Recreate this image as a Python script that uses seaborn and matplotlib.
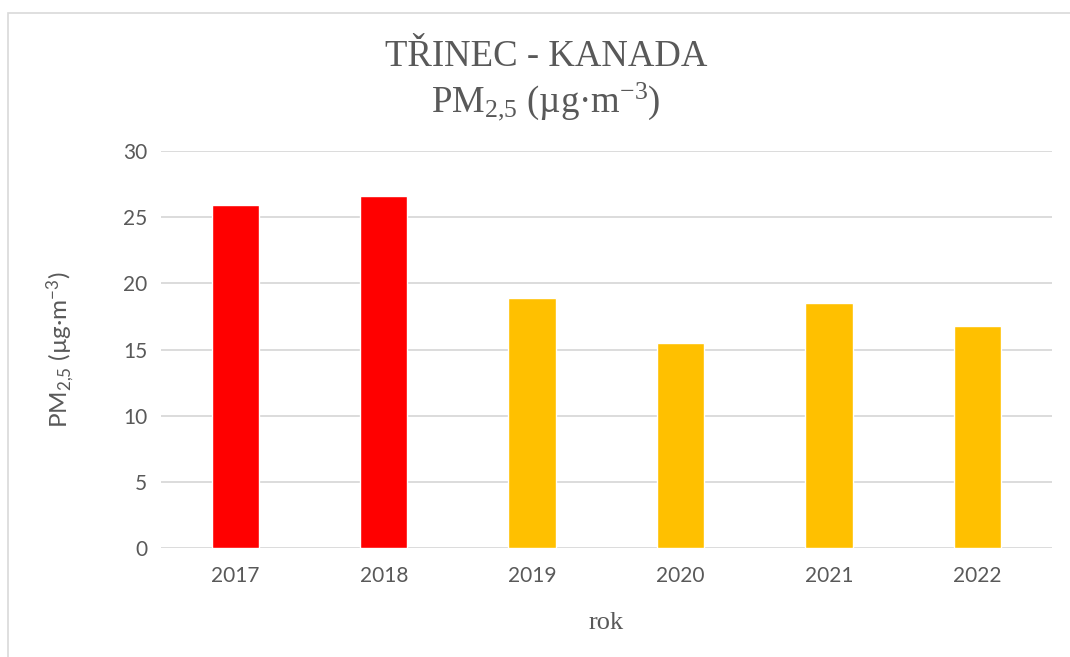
import matplotlib
matplotlib.use("Agg")
import matplotlib.pyplot as plt
import seaborn as sns
import pandas as pd
from matplotlib.patches import Rectangle

years = ["2017", "2018", "2019", "2020", "2021", "2022"]
pm25 = [25.9, 26.6, 18.9, 15.5, 18.5, 16.8]
bar_colors = ["#FF0000", "#FF0000", "#FFC000", "#FFC000", "#FFC000", "#FFC000"]
yticks = [0, 5, 10, 15, 20, 25, 30]

sns.set_theme(style="white")
plt.rcParams["font.family"] = ["Lato", "DejaVu Sans"]
plt.rcParams["mathtext.default"] = "regular"

df = pd.DataFrame({"rok": years, "pm": pm25})

fig = plt.figure(figsize=(10.7, 6.57), dpi=100)
ax = fig.add_axes([0.1505, 0.166, 0.8325, 0.604])

sns.barplot(data=df, x="rok", y="pm", hue="rok", palette=bar_colors,
            legend=False, width=0.32, ax=ax, saturation=1, zorder=3)

ax.set_ylim(0, 30)
ax.set_yticks(yticks)
ax.set_xlim(-0.5, 5.5)
grid_c = "#D9D9D9"
for t in yticks:
    ax.axhline(t, color=grid_c, lw=1.3, zorder=1)
for s in ax.spines.values():
    s.set_visible(False)
ax.tick_params(axis="both", length=0, labelsize=15, colors="#595959")
ax.tick_params(axis="y", pad=10)
ax.tick_params(axis="x", pad=13)

ax.set_xlabel("rok", fontsize=19, color="#595959", family="Liberation Serif", labelpad=19)
ax.set_ylabel("PM$_{2{,}5}$ (µg·m$^{−3}$)", fontsize=17.5, color="#595959", labelpad=33)

fig.text(0.51, 0.913, "TŘINEC - KANADA", ha="center", va="center",
         fontsize=26.5, color="#595959", family="Liberation Serif")
fig.text(0.51, 0.845, "PM$_{2{,}5}$ (µg·m$^{−3}$)", ha="center", va="center",
         fontsize=26.5, color="#595959", family="Liberation Serif")

fig.add_artist(Rectangle((8 / 1070, -0.01), 1.1, 1 - 13 / 657 + 0.01,
                         transform=fig.transFigure, fill=False,
                         edgecolor="#D9D9D9", lw=1.2))

fig.savefig("out.png", dpi=100, facecolor="white")
